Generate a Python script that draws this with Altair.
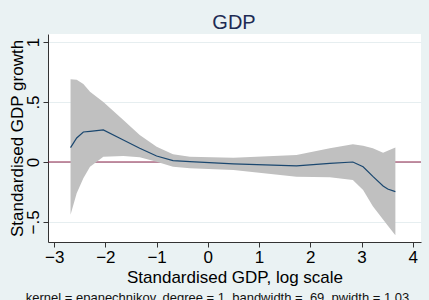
import altair as alt
import pandas as pd

xs = [-2.68, -2.56, -2.43, -2.3, -2.04, -1.65, -1.33, -1.0, -0.68, -0.35, 0.5, 1.73, 2.38, 2.83, 3.03, 3.22, 3.42, 3.51, 3.66]
fit = [0.12, 0.2, 0.25, 0.255, 0.267, 0.183, 0.114, 0.05, 0.011, 0.003, -0.015, -0.033, -0.011, 0.0, -0.04, -0.12, -0.2, -0.225, -0.247]
upper = [0.69, 0.685, 0.65, 0.586, 0.50, 0.35, 0.225, 0.128, 0.064, 0.044, 0.036, 0.058, 0.114, 0.147, 0.135, 0.114, 0.078, 0.094, 0.12]
lower = [-0.44, -0.26, -0.136, -0.04, 0.044, 0.05, 0.039, 0.003, -0.039, -0.053, -0.067, -0.122, -0.128, -0.15, -0.233, -0.37, -0.48, -0.53, -0.61]
x_ticks = [-3, -2, -1, 0, 1, 2, 3, 4]
y_ticks = [-0.5, 0, 0.5, 1]
title = "GDP"
note = "kernel = epanechnikov, degree = 1, bandwidth = .69, pwidth = 1.03"

df = pd.DataFrame({"x": xs, "fit": fit, "upper": upper, "lower": lower})

FONT = "Liberation Sans"

xscale = alt.Scale(domain=[-3.12, 4.16], nice=False, zero=False)
yscale = alt.Scale(domain=[-0.667, 1.067], nice=False, zero=False)

xaxis = alt.Axis(
    values=x_ticks, title="Standardised GDP, log scale", grid=False,
    labelFontSize=17, titleFontSize=17, labelFont=FONT, titleFont=FONT,
    labelColor="black", titleColor="black", titleFontWeight="normal",
    domainColor="#333333", tickColor="#333333", tickSize=5,
    labelPadding=2, titleBaseline="alphabetic", titleY=40, labelFlush=False,
)
yaxis = alt.Axis(
    values=y_ticks, title="Standardised GDP growth",
    labelExpr="datum.value == 0 ? '0' : replace(format(datum.value, '.1~f'), '0.', '.')",
    labelAngle=270, labelAlign="center", labelBaseline="alphabetic",
    labelFontSize=17, titleFontSize=17, labelFont=FONT, titleFont=FONT,
    labelColor="black", titleColor="black", titleFontWeight="normal",
    domainColor="#333333", tickColor="#333333", tickSize=5, labelPadding=5,
    grid=True, gridColor="#e6eef0", gridWidth=1, labelFlush=False,
    titleAngle=270, titleBaseline="alphabetic", titleX=-25.5, titleY=104,
    titleAlign="center",
)

base = alt.Chart(df)

band = base.mark_area(color="#c0c0c0", opacity=1).encode(
    x=alt.X("x:Q", scale=xscale, axis=xaxis),
    y=alt.Y("lower:Q", scale=yscale, axis=yaxis),
    y2="upper:Q",
)
line = base.mark_line(color="#1a476f", strokeWidth=1.2).encode(
    x=alt.X("x:Q", scale=xscale),
    y=alt.Y("fit:Q", scale=yscale),
)
zero = alt.Chart(pd.DataFrame({"y": [0]})).mark_rule(color="#8c2248", strokeWidth=1.2).encode(
    y=alt.Y("y:Q", scale=yscale)
)
note_text = alt.Chart(pd.DataFrame({"t": [note]})).mark_text(
    font=FONT, fontSize=13, color="#111111", align="center", baseline="alphabetic"
).encode(text="t:N", x=alt.value(169.5), y=alt.value(267.5))
title_text = alt.Chart(pd.DataFrame({"t": [title]})).mark_text(
    font=FONT, fontSize=20, color="#1e2c53", align="center", baseline="alphabetic"
).encode(text="t:N", x=alt.value(186), y=alt.value(-5.5))

chart = alt.layer(zero, band, line, note_text, title_text).properties(
    width=373, height=208,
    background="#eaf2f3",
    padding={"left": 48, "top": 34, "right": 8, "bottom": 58},
    autosize=alt.AutoSizeParams(type="none"),
).configure_view(fill="white", stroke=None)

chart.save("out.html", embed_options={"renderer": "svg", "actions": False})
